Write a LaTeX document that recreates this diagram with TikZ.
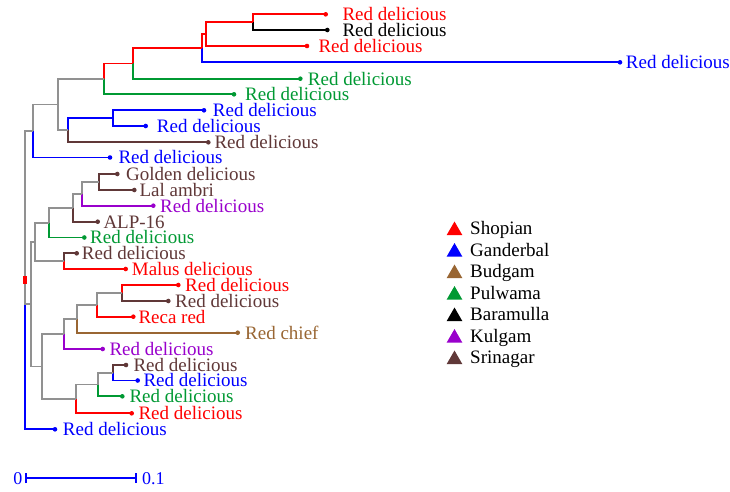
\documentclass[tikz,border=0pt]{standalone}
\usepackage{fontspec}
\setmainfont{Liberation Serif}
\usetikzlibrary{shapes.geometric,arrows.meta}
\definecolor{cred}{RGB}{255,0,0}
\definecolor{cblue}{RGB}{0,0,255}
\definecolor{cgreen}{RGB}{0,153,51}
\definecolor{cbrown}{RGB}{96,56,56}
\definecolor{cbud}{RGB}{153,102,51}
\definecolor{cpur}{RGB}{153,0,204}
\definecolor{cgray}{RGB}{145,145,145}
\tikzset{
  br/.style={line width=1.8pt},
  lab/.style={anchor=base west, inner sep=0pt, font=\fontsize{19}{22}\selectfont},
  tri/.style={regular polygon, regular polygon sides=3, minimum size=18pt, inner sep=0pt},
}
\begin{document}
\begin{tikzpicture}[x=1pt,y=-1pt]
\useasboundingbox[fill=white] (0,0) rectangle (730,491);
% leaves
\coordinate (l1) at (325.7,14.3);
\coordinate (l2) at (327.3,30);
\coordinate (l3) at (307,46);
\coordinate (l4) at (620,62.3);
\coordinate (l5) at (300.3,78.7);
\coordinate (l6) at (234,94.3);
\coordinate (l7) at (204,110.3);
\coordinate (l8) at (145.7,126);
\coordinate (l9) at (208.3,142.3);
\coordinate (l10) at (110,157.5);
\coordinate (l11) at (117.3,174);
\coordinate (l12) at (134.3,190);
\coordinate (l13) at (153.3,205.7);
\coordinate (l14) at (97.7,221.7);
\coordinate (l15) at (84.3,237.5);
\coordinate (l16) at (76.7,253.3);
\coordinate (l17) at (125.7,269);
\coordinate (l18) at (178.3,285);
\coordinate (l19) at (168.3,301);
\coordinate (l20) at (133.3,316.7);
\coordinate (l21) at (237.7,332.7);
\coordinate (l22) at (102.7,349);
\coordinate (l23) at (126,365);
\coordinate (l24) at (137.7,380.5);
\coordinate (l25) at (122.3,396.3);
\coordinate (l26) at (131.7,413.3);
\coordinate (l27) at (55,429.3);
% internal nodes
\coordinate (A) at (252.7,22.15);
\coordinate (B) at (206,34.1);
\coordinate (C) at (201.7,48.2);
\coordinate (D) at (133,63.45);
\coordinate (E) at (104,78.9);
\coordinate (F) at (113,118.15);
\coordinate (G) at (68,130.2);
\coordinate (H) at (58,104.55);
\coordinate (I) at (33,131);
\coordinate (L) at (99,182);
\coordinate (M) at (82,193.85);
\coordinate (N) at (73,207.8);
\coordinate (Y) at (49,222.65);
\coordinate (W) at (64,261.15);
\coordinate (Z) at (35,241.9);
\coordinate (O) at (122,293);
\coordinate (P) at (97,304.85);
\coordinate (Q) at (77,318.8);
\coordinate (R) at (64,333.9);
\coordinate (S) at (113,372.75);
\coordinate (T) at (98,384.5);
\coordinate (U) at (76,398.9);
\coordinate (V) at (42,366.4);
\coordinate (K) at (31,304.15);
\coordinate (J) at (25,280);
% branches: top clade
\draw[br,cred] (A) |- (l1);
\draw[br,black] (A) |- (l2);
\draw[br,cred] (B) |- (A);
\draw[br,cred] (B) |- (l3);
\draw[br,cred] (C) |- (B);
\draw[br,cblue] (C) |- (l4);
\draw[br,cred] (D) |- (C);
\draw[br,cgreen] (D) |- (l5);
\draw[br,cred] (E) |- (D);
\draw[br,cgreen] (E) |- (l6);
\draw[br,cblue] (F) |- (l7);
\draw[br,cblue] (F) |- (l8);
\draw[br,cblue] (G) |- (F);
\draw[br,cbrown] (G) |- (l9);
\draw[br,cgray] (H) |- (E);
\draw[br,cgray] (H) |- (G);
\draw[br,cgray] (I) |- (H);
\draw[br,cblue] (I) |- (l10);
% middle clade
\draw[br,cbrown] (L) |- (l11);
\draw[br,cbrown] (L) |- (l12);
\draw[br,cgray] (M) |- (L);
\draw[br,cpur] (M) |- (l13);
\draw[br,cgray] (N) |- (M);
\draw[br,cbrown] (N) |- (l14);
\draw[br,cgray] (Y) |- (N);
\draw[br,cgreen] (Y) |- (l15);
\draw[br,cbrown] (W) |- (l16);
\draw[br,cred] (W) |- (l17);
\draw[br,cgray] (Z) |- (Y);
\draw[br,cgray] (Z) |- (W);
% bottom clade
\draw[br,cred] (O) |- (l18);
\draw[br,cbrown] (O) |- (l19);
\draw[br,cgray] (P) |- (O);
\draw[br,cred] (P) |- (l20);
\draw[br,cgray] (Q) |- (P);
\draw[br,cbud] (Q) |- (l21);
\draw[br,cgray] (R) |- (Q);
\draw[br,cpur] (R) |- (l22);
\draw[br,cbrown] (S) |- (l23);
\draw[br,cblue] (S) |- (l24);
\draw[br,cgray] (T) |- (S);
\draw[br,cgreen] (T) |- (l25);
\draw[br,cgray] (U) |- (T);
\draw[br,cred] (U) |- (l26);
\draw[br,cgray] (V) |- (R);
\draw[br,cgray] (V) |- (U);
\draw[br,cgray] (K) |- (Z);
\draw[br,cgray] (K) |- (V);
% root
\draw[br,cblue] (J) |- (l27);
\draw[br,cgray] (J) |- (I);
\draw[br,cgray] (J) |- (K);
\node[fill=cred, minimum width=4pt, minimum height=7.5pt, inner sep=0pt] (root) at (J) {};
% dots
\foreach \l/\c in {l1/cred,l2/black,l3/cred,l4/cblue,l5/cgreen,l6/cgreen,l7/cblue,l8/cblue,l9/cbrown,l10/cblue,l11/cbrown,l12/cbrown,l13/cpur,l14/cbrown,l15/cgreen,l16/cbrown,l17/cred,l18/cred,l19/cbrown,l20/cred,l21/cbud,l22/cpur,l23/cbrown,l24/cblue,l25/cgreen,l26/cred,l27/cblue}
  \fill[\c] (\l) circle (2.3pt);
% labels
\node[lab,text=cred] (t1) at (342.3,20.7) {Red delicious};
\node[lab,text=black] (t2) at (342.3,36.4) {Red delicious};
\node[lab,text=cred] (t3) at (318.3,52.4) {Red delicious};
\node[lab,text=cblue] (t4) at (625.7,68.7) {Red delicious};
\node[lab,text=cgreen] (t5) at (307.7,85.1) {Red delicious};
\node[lab,text=cgreen] (t6) at (245,100.7) {Red delicious};
\node[lab,text=cblue] (t7) at (212.7,116.7) {Red delicious};
\node[lab,text=cblue] (t8) at (156.7,132.4) {Red delicious};
\node[lab,text=cbrown] (t9) at (214.3,148.7) {Red delicious};
\node[lab,text=cblue] (t10) at (118.3,163.9) {Red delicious};
\node[lab,text=cbrown] (t11) at (126,180.4) {Golden delicious};
\node[lab,text=cbrown] (t12) at (139.3,196.4) {Lal ambri};
\node[lab,text=cpur] (t13) at (160,212.1) {Red delicious};
\node[lab,text=cbrown] (t14) at (103.3,228.1) {ALP-16};
\node[lab,text=cgreen] (t15) at (90,243.9) {Red delicious};
\node[lab,text=cbrown] (t16) at (81.7,259.7) {Red delicious};
\node[lab,text=cred] (t17) at (131.7,275.4) {Malus delicious};
\node[lab,text=cred] (t18) at (185,291.4) {Red delicious};
\node[lab,text=cbrown] (t19) at (175,307.4) {Red delicious};
\node[lab,text=cred] (t20) at (138.3,323.1) {Reca red};
\node[lab,text=cbud] (t21) at (245,339.1) {Red chief};
\node[lab,text=cpur] (t22) at (109.3,355.4) {Red delicious};
\node[lab,text=cbrown] (t23) at (133.3,371.4) {Red delicious};
\node[lab,text=cblue] (t24) at (143.3,386.9) {Red delicious};
\node[lab,text=cgreen] (t25) at (129.3,402.7) {Red delicious};
\node[lab,text=cred] (t26) at (138.3,419.7) {Red delicious};
\node[lab,text=cblue] (t27) at (62.7,435.7) {Red delicious};
% legend
\node[tri,fill=cred] (k1) at (454.5,230.5) {};
\node[tri,fill=cblue] (k2) at (454.5,252) {};
\node[tri,fill=cbud] (k3) at (454.5,273.5) {};
\node[tri,fill=cgreen] (k4) at (454.5,295) {};
\node[tri,fill=black] (k5) at (454.5,316.5) {};
\node[tri,fill=cpur] (k6) at (454.5,338) {};
\node[tri,fill=cbrown] (k7) at (454.5,359.5) {};
\node[lab] (n1) at (470,234.9) {Shopian};
\node[lab] (n2) at (470,256.4) {Ganderbal};
\node[lab] (n3) at (470,277.9) {Budgam};
\node[lab] (n4) at (470,299.4) {Pulwama};
\node[lab] (n5) at (470,320.9) {Baramulla};
\node[lab] (n6) at (470,342.4) {Kulgam};
\node[lab] (n7) at (470,363.9) {Srinagar};
% scale bar
\coordinate (sb0) at (25,478);
\coordinate (sb1) at (137,478);
\draw[line width=1.6pt,cblue,{Bar[width=10pt]}-{Bar[width=10pt]}] (sb0) -- (sb1);
\node[anchor=base east, inner sep=0pt, text=cblue, font=\fontsize{18}{20}\selectfont] (s0) at (22.5,484) {0};
\node[anchor=base west, inner sep=0pt, text=cblue, font=\fontsize{18}{20}\selectfont] (s1) at (142,484) {0.1};
\end{tikzpicture}
\end{document}
